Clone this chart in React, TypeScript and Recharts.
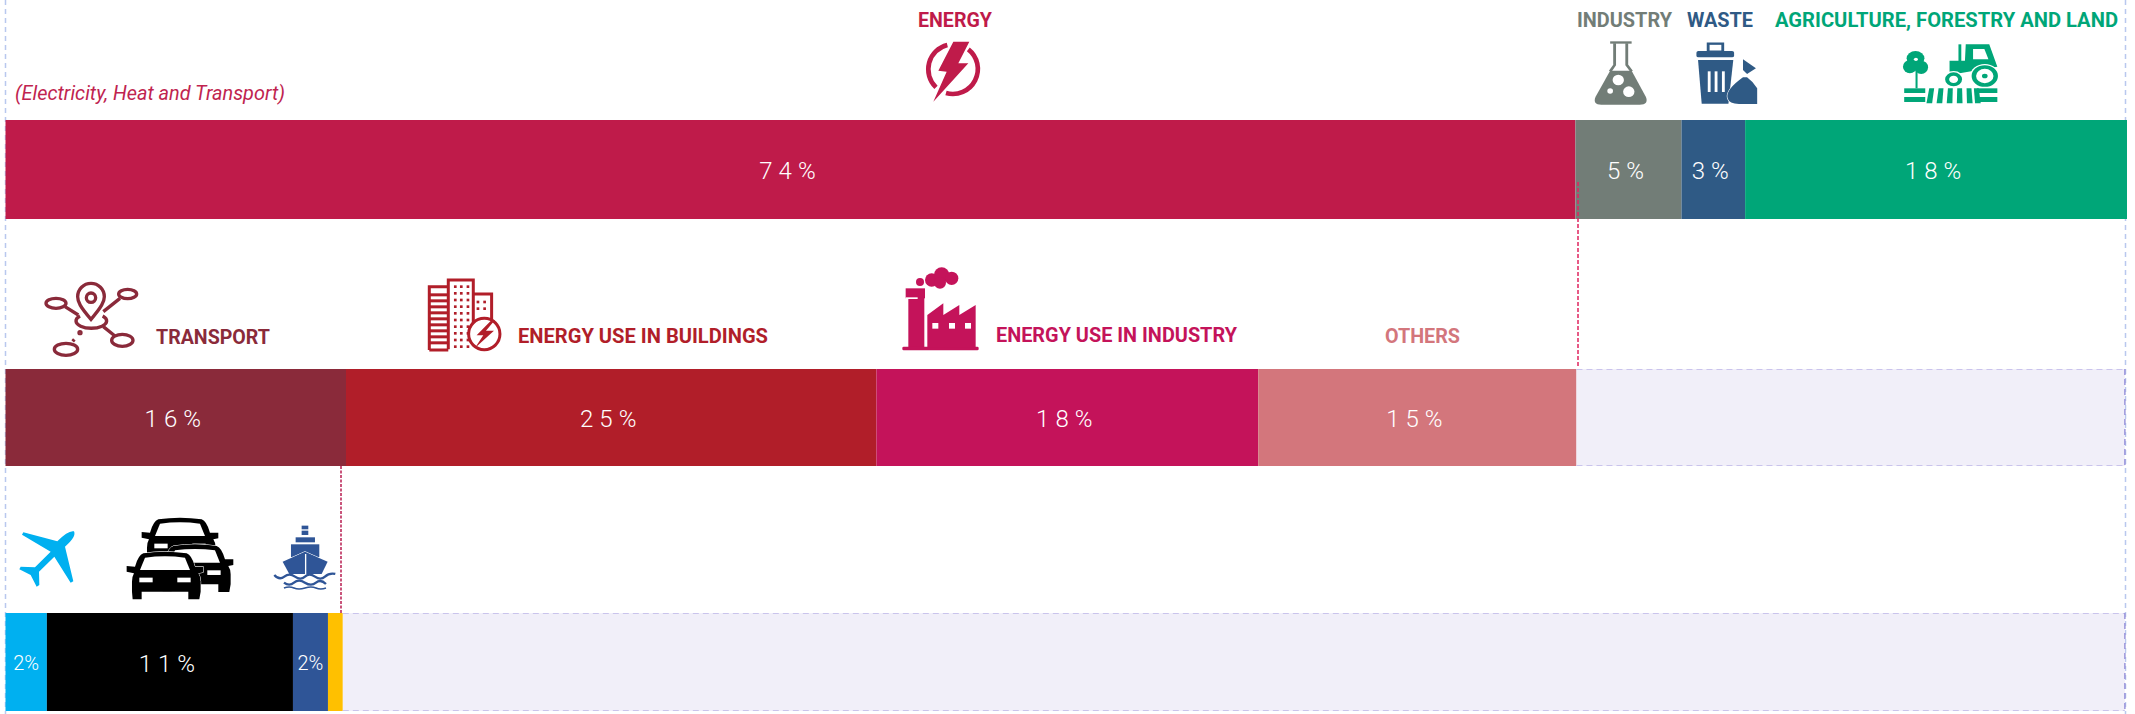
import { BarChart, Bar, XAxis, YAxis } from 'recharts';

const sectorNames = ['Energy', 'Industry', 'Waste', 'Agriculture'];
const sectorValues = [74, 5, 3, 18];
const sectorLabels = ['74%', '5%', '3%', '18%'];
const sectorColors = ['#bf1b4a', '#727d77', '#2f5a85', '#00a678'];

const energyNames = ['Transport', 'Buildings', 'Energy industry', 'Others', 'Rest'];
const energyValues = [16.05, 25, 18, 15, 25.85];
const energyLabels = ['16%', '25%', '18%', '15%', ''];
const energyColors = ['#8a2a3a', '#b11e29', '#c4135a', '#d3767c', '#f1eff9'];

const transportNames = ['Aviation', 'Road', 'Shipping', 'Rail and pipeline', 'Rest'];
const transportValues = [1.95, 11.6, 1.65, 0.7, 84];
const transportLabels = ['2%', '11%', '2%', '', ''];
const transportColors = ['#00b0f0', '#000000', '#2f5597', '#ffc000', '#f1eff9'];

const FONT = 'Roboto, sans-serif';
const CHART_W = 2135;

// the pale remainder has a dashed edge on three sides only
const RestShape = (props: any) => {
  const { x, y, width, height } = props;
  const r = x + width;
  const b = y + height;
  return (
    <g>
      <rect x={x} y={y} width={width} height={height} fill="#f1eff9" />
      <path d={`M${x},${y}H${r}M${x},${b}H${r}`} stroke="#bdb7e8" strokeWidth={1.5} strokeDasharray="6 4" fill="none" />
      <path d={`M${r},${y}V${b}`} stroke="#9a94da" strokeWidth={1.5} strokeDasharray="6 4" fill="none" />
    </g>
  );
};

interface StackRowProps {
  top: number;
  height: number;
  names: string[];
  values: number[];
  labels: string[];
  colors: string[];
}

function StackRow({ top, height, names, values, labels, colors }: StackRowProps) {
  const row: Record<string, string | number> = { row: 'share' };
  names.forEach((n, i) => {
    row[n] = values[i];
  });

  return (
    <div style={{ position: 'absolute', left: 0, top }}>
      <BarChart
        width={CHART_W}
        height={height}
        data={[row]}
        layout="vertical"
        stackOffset="none"
        barCategoryGap={0}
        margin={{ top: 0, right: 8, bottom: 0, left: 5.5 }}
      >
        <XAxis type="number" domain={[0, 100]} hide />
        <YAxis type="category" dataKey="row" hide />
        {names.map((n, i) => (
          <Bar
            key={n}
            dataKey={n}
            stackId="a"
            fill={colors[i]}
            isAnimationActive={false}
            shape={n === 'Rest' ? RestShape : undefined}
            label={(p: any) => {
              const small = labels[i] === '2%';
              return (
                <text
                  x={p.x + p.width / 2}
                  y={p.y + p.height / 2 + 1}
                  dy="0.36em"
                  textAnchor="middle"
                  fill="#fff"
                  fontFamily={FONT}
                  fontWeight={300}
                  fontSize={small ? 20 : 24}
                  letterSpacing={small ? 0 : 6}
                >
                  {labels[i]}
                </text>
              );
            }}
          />
        ))}
      </BarChart>
    </div>
  );
}

function Caption({ x, y, w, color, children }: any) {
  return (
    <text x={x} y={y} fill={color} fontFamily={FONT} fontWeight={700} fontSize={19.5} textLength={w} lengthAdjust="spacingAndGlyphs">
      {children}
    </text>
  );
}

function EnergyIcon() {
  const c = sectorColors[0];
  return (
    <g transform="translate(890,0) scale(0.3333)">
      <path d="M172,135A75,75 0 0 0 138,262M235,148A75,75 0 0 1 168,279" fill="none" stroke={c} strokeWidth={14} />
      <path d="M190,125L238,125L205,190L235,190L130,305L170,215L145,212Z" fill={c} />
    </g>
  );
}

function FlaskIcon() {
  const c = sectorColors[1];
  return (
    <g transform="translate(1500,0) scale(0.405,0.3333)">
      <rect x={272} y={124} width={53} height={7} fill={c} />
      <path d="M283,130L283,195L272,214M313,130L313,195L325,214" fill="none" stroke={c} strokeWidth={7} />
      <path d="M272,212L325,212L360,290Q368,314 345,314L250,314Q228,314 236,290Z" fill={c} />
      <ellipse cx={292} cy={240} rx={14} ry={16} fill="#fff" />
      <ellipse cx={318} cy={275} rx={14} ry={16} fill="#fff" />
      <ellipse cx={272} cy={273} rx={7} ry={8} fill="#fff" />
    </g>
  );
}

function BinIcon() {
  const c = sectorColors[2];
  return (
    <g transform="translate(1500,0) scale(0.405,0.3333)" fill={c}>
      <rect x={514} y={131} width={36} height={24} fill="none" stroke={c} strokeWidth={7} />
      <rect x={485} y={153} width={93} height={19} rx={5} />
      <path d="M489,180L576,180L564,311L498,311Z" />
      {[513, 530, 548].map((sx) => (
        <rect key={sx} x={sx} y={214} width={7} height={62} fill="#fff" />
      ))}
      <path d="M562,295Q556,270 600,232L610,232Q625,245 635,265L635,312L590,312Q566,312 562,295Z" stroke="#fff" strokeWidth={3} paintOrder="stroke" />
      <path d="M600,178L632,205L610,222L600,210Z" />
    </g>
  );
}

function FarmIcon() {
  const c = sectorColors[3];
  const furrows = [1060, 1083, 1106, 1129, 1152, 1170];
  return (
    <g transform="translate(1500,0) scale(0.405,0.3333)" fill={c}>
      <circle cx={1026} cy={175} r={22} />
      <ellipse cx={1012} cy={200} rx={17} ry={20} />
      <ellipse cx={1040} cy={202} rx={17} ry={20} />
      <circle cx={1027} cy={178} r={5} fill="#fff" />
      <rect x={1026} y={210} width={5} height={55} />
      <rect x={998} y={265} width={52} height={14} />
      <rect x={998} y={291} width={52} height={15} />
      <rect x={1178} y={265} width={50} height={14} />
      <rect x={1178} y={291} width={50} height={15} />
      {furrows.map((fx, i) => (
        <path key={fx} d={`M${fx},265h12l${(i - 2.5) * 2},45h-14Z`} />
      ))}
      <path d="M1150,133L1208,133L1228,200L1110,225L1110,182L1148,182Z" />
      <path d="M1168,147L1196,147L1206,178L1168,178Z" fill="#fff" />
      <rect x={1132} y={133} width={7} height={50} />
      <circle cx={1197} cy={228} r={36} fill="#fff" />
      <circle cx={1197} cy={228} r={27} fill="none" stroke={c} strokeWidth={11} />
      <circle cx={1197} cy={228} r={7} />
      <circle cx={1120} cy={238} r={25} fill="#fff" />
      <circle cx={1120} cy={238} r={16} fill="none" stroke={c} strokeWidth={10} />
    </g>
  );
}

function TransportIcon() {
  const c = energyColors[0];
  return (
    <g transform="translate(30,270) scale(0.3333)" fill="none" stroke={c} strokeWidth={10}>
      <path d="M183,148C150,110 143,95 143,80A40,40 0 0 1 223,80C223,95 215,110 183,148Z" />
      <circle cx={183} cy={83} r={14} />
      <path d="M150,138A46,22 0 1 0 218,138" />
      <ellipse cx={78} cy={100} rx={30} ry={15} />
      <ellipse cx={293} cy={72} rx={27} ry={14} />
      <ellipse cx={277} cy={211} rx={32} ry={18} />
      <ellipse cx={108} cy={238} rx={35} ry={18} />
      <path d="M105,110L145,135M220,125L270,85M220,170L255,198M133,208L128,214" />
      <circle cx={150} cy={188} r={3} fill={c} />
    </g>
  );
}

function BuildingsIcon() {
  const c = energyColors[1];
  const floors = [70, 88, 106, 124, 142, 160, 178, 196, 214];
  const dotCols = [1272, 1290, 1310];
  const dotRows = [46, 66, 86, 106, 126, 146, 166, 186, 206, 226];
  return (
    <g transform="translate(30,270) scale(0.3333)">
      <path d="M1198,240V50H1255M1255,240H1198" fill="none" stroke={c} strokeWidth={9} />
      {floors.map((fy) => (
        <rect key={fy} x={1198} y={fy} width={57} height={9} fill={c} />
      ))}
      <path d="M1255,238V30H1330V160M1330,72H1385V160" fill="none" stroke={c} strokeWidth={9} />
      {dotRows.flatMap((dy) =>
        dotCols.map((dx) => <rect key={`${dx}-${dy}`} x={dx} y={dy} width={8} height={8} fill={c} />)
      )}
      <rect x={1340} y={92} width={8} height={8} fill={c} />
      <rect x={1360} y={92} width={8} height={8} fill={c} />
      <rect x={1340} y={112} width={8} height={8} fill={c} />
      <rect x={1360} y={112} width={8} height={8} fill={c} />
      <circle cx={1363} cy={192} r={47} fill="#fff" stroke={c} strokeWidth={9} />
      <path d="M1385,150L1340,196L1360,196L1335,234L1392,182L1368,182L1395,150Z" fill={c} />
    </g>
  );
}

function FactoryIcon() {
  const c = energyColors[2];
  return (
    <g transform="translate(890,260) scale(0.3333)" fill={c}>
      <circle cx={90} cy={66} r={12} />
      <circle cx={125} cy={60} r={20} />
      <circle cx={155} cy={45} r={23} />
      <circle cx={185} cy={55} r={20} />
      <circle cx={150} cy={68} r={18} />
      <rect x={47} y={85} width={58} height={30} />
      <rect x={55} y={112} width={48} height={150} />
      <rect x={37} y={260} width={229} height={11} rx={4} />
      <path d="M112,262V165L160,130V165L208,135V165L257,135V262Z" />
      {[127, 177, 225].map((wx) => (
        <rect key={wx} x={wx} y={189} width={18} height={17} fill="#fff" />
      ))}
      <rect x={47} y={112} width={36} height={5} fill="#fff" />
    </g>
  );
}

function PlaneIcon() {
  return (
    <g transform="translate(0,360) scale(0.3333)">
      <path
        d="M222,514Q205,510 172,544L70,517L66,524L152,575L105,622L62,620L58,628L92,645L110,680L118,675L117,635L163,590L212,668L220,664L195,560Q230,530 222,514Z"
        fill={transportColors[0]}
      />
    </g>
  );
}

function Car({ x, y }: { x: number; y: number }) {
  return (
    <g transform={`translate(${x},${y})`}>
      <path
        d="M50,5Q115,-5 180,5Q195,10 205,45L230,45L230,62L215,65Q222,75 222,90L222,120L218,143L185,143L185,120L45,120L45,143L18,143L16,120L16,90Q16,75 22,65L0,60L0,43L25,45Q35,10 50,5Z"
        fill="#000"
        stroke="#fff"
        strokeWidth={3}
        paintOrder="stroke"
      />
      <path d="M55,18Q115,10 175,18L190,55L40,55Z" fill="#fff" />
      <rect x={38} y={78} width={40} height={14} fill="#fff" />
      <rect x={152} y={78} width={40} height={14} fill="#fff" />
    </g>
  );
}

function CarsIcon() {
  return (
    <g transform="translate(0,360) scale(0.3333)">
      <Car x={425} y={473} />
      <Car x={470} y={553} />
      <Car x={380} y={575} />
    </g>
  );
}

function ShipIcon() {
  const c = transportColors[2];
  const waves = ['M823,645Q838,662 853,650T885,650T915,650T945,650T975,650T1006,642', 'M852,668Q868,680 882,668T915,668T948,668T978,672'];
  return (
    <g transform="translate(0,360) scale(0.3333)" fill={c}>
      <rect x={905} y={497} width={20} height={28} />
      <rect x={903} y={508} width={24} height={4} fill="#fff" />
      <rect x={887} y={532} width={58} height={15} />
      <rect x={873} y={553} width={85} height={38} />
      <path d="M848,605L915,575L983,605L965,642L868,642Z" stroke="#fff" strokeWidth={3} paintOrder="stroke" />
      <rect x={915} y={582} width={4} height={60} fill="#fff" />
      {waves.map((d) => (
        <path key={d} d={d} fill="none" stroke={c} strokeWidth={7} />
      ))}
      <path d="M852,684Q868,678 882,684T915,684T948,684T978,684" fill="none" stroke={c} strokeWidth={5} />
    </g>
  );
}

export default function App() {
  return (
    <div style={{ position: 'absolute', left: 0, top: 0, width: CHART_W, height: 714, overflow: 'hidden', background: '#fff' }}>
      {/* page frame sits under the bars */}
      <svg width={CHART_W} height={714} style={{ position: 'absolute', left: 0, top: 0 }}>
        <line x1={5.5} y1={0} x2={5.5} y2={714} stroke="#b9c8ee" strokeWidth={1.5} strokeDasharray="5 4" />
        <line x1={2125.5} y1={0} x2={2125.5} y2={714} stroke="#b9c8ee" strokeWidth={1.5} strokeDasharray="5 4" />
      </svg>

      <StackRow top={120} height={99} names={sectorNames} values={sectorValues} labels={sectorLabels} colors={sectorColors} />
      <StackRow top={369} height={97} names={energyNames} values={energyValues} labels={energyLabels} colors={energyColors} />
      <StackRow top={613} height={98} names={transportNames} values={transportValues} labels={transportLabels} colors={transportColors} />

      <svg width={CHART_W} height={714} style={{ position: 'absolute', left: 0, top: 0 }}>
        <line x1={1578} y1={182} x2={1578} y2={368} stroke="#e0245f" strokeWidth={1.5} strokeDasharray="4 2" />
        <line x1={341} y1={466} x2={341} y2={613} stroke="#b81d50" strokeWidth={1.5} strokeDasharray="3 1.5" />

        <Caption x={918} y={27} w={74} color={sectorColors[0]}>ENERGY</Caption>
        <Caption x={1577} y={27} w={95} color={sectorColors[1]}>INDUSTRY</Caption>
        <Caption x={1687} y={27} w={66} color={sectorColors[2]}>WASTE</Caption>
        <Caption x={1775} y={27} w={343} color={sectorColors[3]}>AGRICULTURE, FORESTRY AND LAND</Caption>
        <text x={15} y={100} fill="#c0244f" fontFamily={FONT} fontWeight={400} fontStyle="italic" fontSize={19.5} textLength={270} lengthAdjust="spacingAndGlyphs">
          (Electricity, Heat and Transport)
        </text>

        <Caption x={156} y={344} w={114} color={energyColors[0]}>TRANSPORT</Caption>
        <Caption x={518} y={343} w={250} color={energyColors[1]}>ENERGY USE IN BUILDINGS</Caption>
        <Caption x={996} y={342} w={241} color={energyColors[2]}>ENERGY USE IN INDUSTRY</Caption>
        <Caption x={1385} y={343} w={75} color={energyColors[3]}>OTHERS</Caption>

        <EnergyIcon />
        <FlaskIcon />
        <BinIcon />
        <FarmIcon />
        <TransportIcon />
        <BuildingsIcon />
        <FactoryIcon />
        <PlaneIcon />
        <CarsIcon />
        <ShipIcon />
      </svg>
    </div>
  );
}
